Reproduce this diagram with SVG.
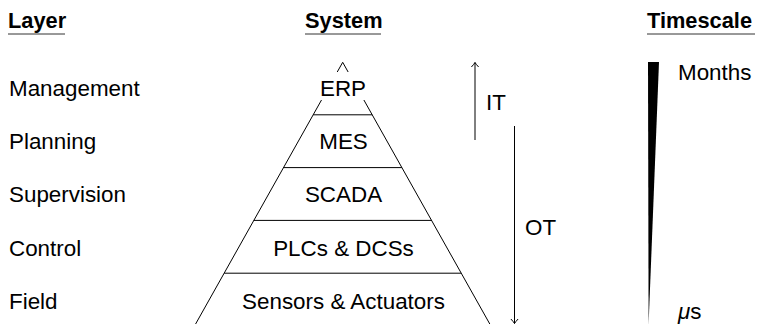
<svg xmlns="http://www.w3.org/2000/svg" width="758" height="324" viewBox="0 0 758 324">
  <style>
    text { font-family: "Liberation Sans", Arial, sans-serif; font-size: 22.4px; fill: #000; }
    .head { font-weight: bold; font-size: 21.8px; }
    .uline { stroke: #333; stroke-width: 1; }
    .edge { stroke: #000; stroke-width: 1; fill: none; }
    .mid { text-anchor: middle; }
  </style>
  <defs>
    <marker id="to" markerUnits="userSpaceOnUse" markerWidth="12" markerHeight="12" viewBox="-6 -6 12 12" refX="0" refY="0" orient="auto" overflow="visible">
      <path d="M-4.5,-3.6 Q-1.6,-0.9 0,0 Q-1.6,0.9 -4.5,3.6" stroke="#000" stroke-width="1" fill="none"/>
    </marker>
  </defs>

  <rect width="758" height="324" fill="#fff"/>

  <!-- column headings -->
  <g id="head-layer">
    <text class="head" x="8" y="28">Layer</text>
    <line class="uline" x1="8" y1="34" x2="65" y2="34"/>
  </g>
  <g id="head-system">
    <text class="head" x="305" y="28">System</text>
    <line class="uline" x1="305" y1="34" x2="381" y2="34"/>
  </g>
  <g id="head-timescale">
    <text class="head" x="647" y="28">Timescale</text>
    <line class="uline" x1="647" y1="34" x2="755" y2="34"/>
  </g>

  <!-- layer names -->
  <g id="layer-management"><text x="9" y="96">Management</text></g>
  <g id="layer-planning"><text x="9" y="149">Planning</text></g>
  <g id="layer-supervision"><text x="9" y="202">Supervision</text></g>
  <g id="layer-control"><text x="9" y="256">Control</text></g>
  <g id="layer-field"><text x="9" y="309">Field</text></g>

  <!-- pyramid outline and tier dividers -->
  <g id="pyramid">
    <path class="edge" d="M195.6,324 L342.7,62.3 L489.8,324"/>
    <line class="edge" x1="313.2" y1="114.8" x2="372.2" y2="114.8"/>
    <line class="edge" x1="283.5" y1="167.6" x2="401.9" y2="167.6"/>
    <line class="edge" x1="253.8" y1="220.4" x2="431.6" y2="220.4"/>
    <line class="edge" x1="224.2" y1="273.2" x2="461.2" y2="273.2"/>
  </g>

  <!-- systems per tier -->
  <g id="sys-erp">
    <rect x="320" y="72" width="45.5" height="28" fill="#fff"/>
    <text class="mid" x="343" y="96">ERP</text>
  </g>
  <g id="sys-mes"><text class="mid" x="343.5" y="149">MES</text></g>
  <g id="sys-scada"><text class="mid" x="343.5" y="202">SCADA</text></g>
  <g id="sys-plc"><text class="mid" x="343.5" y="256">PLCs &amp; DCSs</text></g>
  <g id="sys-field"><text class="mid" x="343.5" y="309">Sensors &amp; Actuators</text></g>

  <!-- IT / OT spans -->
  <g id="connectors">
    <line class="edge" x1="475" y1="140" x2="475" y2="62.5" marker-end="url(#to)"/>
    <line class="edge" x1="514.5" y1="126" x2="514.5" y2="323.5" marker-end="url(#to)"/>
  </g>
  <g id="label-it"><text x="486" y="110">IT</text></g>
  <g id="label-ot"><text x="525" y="235">OT</text></g>

  <!-- timescale wedge -->
  <g id="timescale">
    <polygon points="648,62 659,62 648.6,324" fill="#000"/>
    <text x="678" y="80">Months</text>
    <text x="678" y="319"><tspan font-style="italic">μ</tspan>s</text>
  </g>
</svg>
